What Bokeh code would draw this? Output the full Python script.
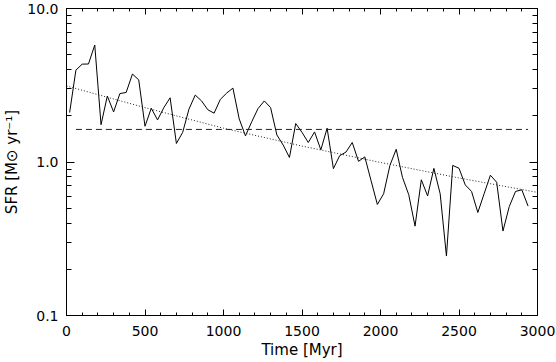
from bokeh.plotting import figure
from bokeh.models import Range1d, FixedTicker, LinearAxis, LogAxis, GlobalInlineStyleSheet
from bokeh.embed import file_html
from bokeh.resources import INLINE

# --- data ---
time_myr = [20, 60, 100, 140, 180, 220, 260, 300, 340, 380,
            420, 460, 500, 540, 580, 620, 660, 700, 740, 780,
            820, 860, 900, 940, 980, 1020, 1060, 1100, 1140, 1180,
            1220, 1260, 1300, 1340, 1380, 1420, 1460, 1500, 1540, 1580,
            1620, 1660, 1700, 1740, 1780, 1820, 1860, 1900, 1940, 1980,
            2020, 2060, 2100, 2140, 2180, 2220, 2260, 2300, 2340, 2380,
            2420, 2460, 2500, 2540, 2580, 2620, 2660, 2700, 2740, 2780,
            2820, 2860, 2900, 2940]
sfr = [2.10, 3.97, 4.34, 4.35, 5.78, 1.75, 2.69, 2.12, 2.79, 2.84,
       3.74, 3.43, 1.71, 2.24, 1.88, 2.26, 2.62, 1.32, 1.56, 2.21,
       2.73, 2.50, 2.19, 2.08, 2.56, 2.81, 3.03, 1.91, 1.48, 1.83,
       2.23, 2.50, 2.26, 1.50, 1.29, 1.07, 1.78, 1.56, 1.34, 1.57,
       1.20, 1.66, 0.905, 1.10, 1.16, 1.34, 1.01, 1.08, 0.755, 0.529,
       0.621, 0.95, 1.21, 0.794, 0.612, 0.382, 0.766, 0.601, 0.909, 0.621,
       0.244, 0.95, 0.91, 0.709, 0.643, 0.469, 0.621, 0.82, 0.738, 0.355,
       0.512, 0.643, 0.659, 0.516]

mean_t = [60, 2940]
mean_sfr = [1.63, 1.63]

fit_t = [0, 500, 1000, 1500, 2000, 2500, 3000]
fit_sfr = [3.13, 2.26, 1.66, 1.27, 0.993, 0.787, 0.634]

x_major = [0, 500, 1000, 1500, 2000, 2500, 3000]
x_minor = [v for v in range(0, 3001, 100)]
y_major = [0.1, 1.0, 10.0]
y_minor = [0.2, 0.3, 0.4, 0.5, 0.6, 0.7, 0.8, 0.9,
           2, 3, 4, 5, 6, 7, 8, 9]
y_labels = {0.1: "0.1", 1: "1.0", 10: "10.0"}

FONT = "DejaVu Sans"

p = figure(width=556, height=362, x_range=Range1d(0, 3000),
           y_range=Range1d(0.1, 10), y_axis_type="log",
           output_backend="svg", toolbar_location=None,
           min_border_left=66, min_border_right=19,
           min_border_top=8, min_border_bottom=47,
           x_axis_label="Time [Myr]", y_axis_label="SFR [M\u2299 yr\u207b\u00b9]")
p.stylesheets = [GlobalInlineStyleSheet(css="html, body { margin: 0 !important; padding: 0 !important; overflow: hidden; }")]

p.grid.visible = False
p.outline_line_color = "black"
p.outline_line_width = 1
p.background_fill_color = "white"
p.border_fill_color = "white"

p.line(time_myr, sfr, line_color="black", line_width=1)
p.line(mean_t, mean_sfr, line_color="#222222", line_width=1, line_dash="6 4")
p.line(fit_t, fit_sfr, line_color="#222222", line_width=1, line_dash="1 2")

def style(ax, labels=True):
    ax.axis_line_color = "black"
    ax.major_tick_line_color = "black"
    ax.minor_tick_line_color = "black"
    ax.major_tick_out = 0
    ax.minor_tick_out = 0
    ax.major_label_text_font = FONT
    ax.major_label_text_font_size = "14px"
    ax.major_label_text_color = "black"
    ax.axis_label_text_font = FONT
    ax.axis_label_text_font_size = "15px"
    ax.axis_label_text_font_style = "normal"
    ax.axis_label_text_color = "black"
    if not labels:
        ax.major_label_text_font_size = "1px"
        ax.major_label_text_alpha = 0
        ax.major_label_standoff = 0

# bottom x axis
xa = p.xaxis[0]
xa.ticker = FixedTicker(ticks=x_major, minor_ticks=x_minor)
style(xa)
xa.major_tick_in = 6
xa.minor_tick_in = 3
xa.major_label_standoff = 10
xa.axis_label_standoff = 2

# left y axis
ya = p.yaxis[0]
ya.ticker = FixedTicker(ticks=y_major, minor_ticks=y_minor)
ya.major_label_overrides = y_labels
style(ya)
ya.major_tick_in = 8
ya.minor_tick_in = 5
ya.major_label_standoff = 8
ya.axis_label_standoff = 3

# top axis
ta = LinearAxis(ticker=FixedTicker(ticks=x_major, minor_ticks=x_minor))
style(ta, labels=False)
ta.major_tick_in = 6
ta.minor_tick_in = 3
p.add_layout(ta, "above")

# right axis
ra = LogAxis(ticker=FixedTicker(ticks=y_major, minor_ticks=y_minor))
style(ra, labels=False)
ra.major_tick_in = 8
ra.minor_tick_in = 5
p.add_layout(ra, "right")

open("out.html", "w").write(file_html(p, INLINE))
